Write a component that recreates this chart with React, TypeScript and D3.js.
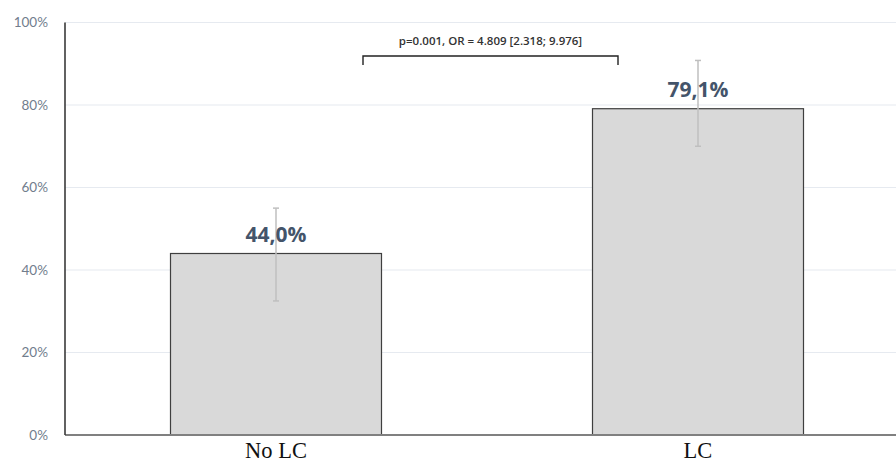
import React from "react";
import * as d3 from "d3";

const categories = ["No LC", "LC"];
const values = [44.0, 79.1];
const errLow = [32.5, 70.0];
const errHigh = [55.0, 90.8];
const valueLabels = ["44,0%", "79,1%"];
const yTicks = [0, 20, 40, 60, 80, 100];
const annotation = "p=0.001, OR = 4.809 [2.318; 9.976]";

export default function App() {
  const W = 896, H = 464;
  const x = d3.scaleBand<string>().domain(categories).range([65, 909]).paddingInner(0.5).paddingOuter(0.25);
  const y = d3.scaleLinear().domain([0, 100]).range([435, 22.5]);
  const bw = x.bandwidth();
  const bx0 = 363, bx1 = 618;
  const bY = 56;
  return (
    <svg width={W} height={H} style={{ position: "absolute", left: 0, top: 0, background: "#fff" }}>
      {yTicks.map((t) => (
        <g key={t}>
          {t > 0 && <line x1={65} x2={W} y1={y(t)} y2={y(t)} stroke="#e6eaf0" strokeWidth={1.2} />}
          <text x={48} y={y(t)} dy="0.35em" textAnchor="end" fontFamily="Lato, 'Open Sans', sans-serif" fontSize={13.5} fill="#717d8d">
            {t}%
          </text>
        </g>
      ))}
      {categories.map((c, i) => {
        const cx = (x(c) ?? 0) + bw / 2;
        return (
          <g key={c}>
            <rect x={x(c)} y={y(values[i])} width={bw} height={y(0) - y(values[i])} fill="#d9d9d9" stroke="#3f3f3f" strokeWidth={1.2} />
            <line x1={cx} x2={cx} y1={y(errHigh[i])} y2={y(errLow[i])} stroke="#bfbfbf" strokeWidth={1.5} />
            <line x1={cx - 3} x2={cx + 3} y1={y(errHigh[i])} y2={y(errHigh[i])} stroke="#bfbfbf" strokeWidth={1.5} />
            <line x1={cx - 3} x2={cx + 3} y1={y(errLow[i])} y2={y(errLow[i])} stroke="#bfbfbf" strokeWidth={1.5} />
            <text x={cx} y={y(values[i]) - 12} textAnchor="middle" fontFamily="'Open Sans', Lato, sans-serif" fontWeight="bold" fontSize={21} fill="#44546a">
              {valueLabels[i]}
            </text>
            <text x={cx} y={458} textAnchor="middle" fontFamily="'Liberation Serif', 'DejaVu Serif', serif" fontSize={22.5} fill="#111">
              {c}
            </text>
          </g>
        );
      })}
      <line x1={65} x2={W} y1={y(0)} y2={y(0)} stroke="#808080" strokeWidth={1.8} />
      <line x1={65} x2={65} y1={y(100)} y2={y(0)} stroke="#3a3a3a" strokeWidth={1.6} />
      <path d={`M${bx0},${bY + 9}V${bY}H${bx1}V${bY + 9}`} fill="none" stroke="#222" strokeWidth={1.4} />
      <text x={(bx0 + bx1) / 2} y={45} textAnchor="middle" fontFamily="'Open Sans', 'Liberation Sans', sans-serif" fontSize={11.5} fontWeight={600} fill="#333">
        {annotation}
      </text>
    </svg>
  );
}
